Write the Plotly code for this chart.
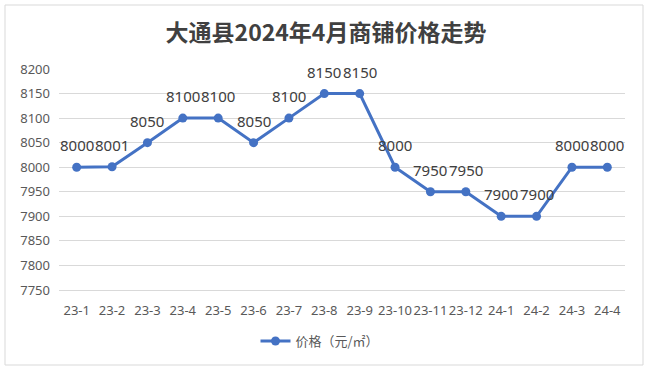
import plotly.graph_objects as go

categories = ["23-1", "23-2", "23-3", "23-4", "23-5", "23-6", "23-7", "23-8",
              "23-9", "23-10", "23-11", "23-12", "24-1", "24-2", "24-3", "24-4"]
prices = [8000, 8001, 8050, 8100, 8100, 8050, 8100, 8150,
          8150, 8000, 7950, 7950, 7900, 7900, 8000, 8000]
y_ticks = [7750, 7800, 7850, 7900, 7950, 8000, 8050, 8100, 8150, 8200]
series_name = "价格（元/㎡）"
title_text = "大通县2024年4月商铺价格走势"

W, H = 650, 370
L, R, T, B = 59, 25, 69, 80
pw, ph = W - L - R, H - T - B

fig = go.Figure()
fig.add_trace(go.Scatter(
    x=categories, y=prices, mode="lines+markers",
    name=series_name,
    line=dict(color="#4472C4", width=3),
    marker=dict(size=9, color="#4472C4"),
))

for c, v in zip(categories, prices):
    fig.add_annotation(x=c, y=v, text=str(v), showarrow=False, yshift=22,
                       font=dict(size=15, color="#404040", family="Noto Sans, sans-serif"))

fig.update_layout(
    width=W, height=H,
    margin=dict(l=L, r=R, t=T, b=B),
    paper_bgcolor="white", plot_bgcolor="white",
    title=dict(text=title_text, x=(326 - L) / pw, xref="paper", xanchor="center",
               y=1 - 33 / H, yref="container", yanchor="middle",
               font=dict(size=23, color="#404040", family="Noto Sans CJK SC, sans-serif", weight="bold")),
    font=dict(family="Noto Sans, Noto Sans CJK SC, sans-serif", color="#595959", size=13),
    showlegend=True,
    legend=dict(orientation="h", x=(320 - L) / pw, xanchor="center", y=-(341 - (T + ph)) / ph, yanchor="middle",
                font=dict(size=13, color="#595959", family="Noto Sans CJK SC, sans-serif")),
    xaxis=dict(type="category", showgrid=False, showline=True, linecolor="#D9D9D9",
               tickfont=dict(size=13, color="#595959"), ticks="", ticklabelstandoff=8, tickangle=0,
               range=[-0.5, len(categories) - 0.5]),
    yaxis=dict(range=[7750, 8200], tickvals=y_ticks, showgrid=True, gridcolor="#D9D9D9",
               zeroline=False, ticks="", ticklabelstandoff=8, tickfont=dict(size=13, color="#595959")),
    shapes=[dict(type="rect", xref="paper", yref="paper",
                 x0=(5 - L) / pw, x1=(643 - L) / pw,
                 y0=-(365 - (T + ph)) / ph, y1=1 + (T - 5) / ph,
                 line=dict(color="#D9D9D9", width=1), fillcolor="rgba(0,0,0,0)", layer="below")],
)

fig.write_html("out.html", config={"displayModeBar": False},
               post_script="document.body.style.margin='0';")
